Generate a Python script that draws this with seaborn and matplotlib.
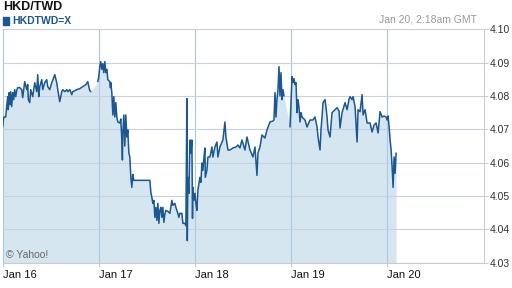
import matplotlib
matplotlib.use("Agg")
import matplotlib.pyplot as plt
import matplotlib.patches as mpatches
import numpy as np
import pandas as pd
import seaborn as sns

# ---- data (hours since Jan 16 00:00 GMT, HKD/TWD rate) ----
seg1_hours = [0, 0.25, 0.75, 1.0, 1.25, 1.4, 1.6, 1.75, 2.0, 2.25, 2.5, 2.75, 3.0, 3.25, 3.5, 3.75,
              4.25, 4.75, 5.0, 5.5, 6.0, 6.25, 6.4, 6.75, 7.0, 7.5, 8.0, 8.5, 8.75, 9.0, 9.25, 9.75,
              10.0, 10.5, 11.0, 11.25, 11.75, 12.25, 12.75, 13.0, 13.5, 13.75, 14.25, 14.75, 15.0,
              15.5, 16.0, 16.25, 16.75, 17.25, 17.5, 18.0, 18.5, 19.25, 20.0, 20.75, 21.25, 21.5,
              21.75, 22.0]
seg1_rates = [4.0707, 4.0737, 4.0737, 4.0768, 4.0798, 4.0759, 4.0810, 4.0774, 4.0813, 4.0768, 4.0810,
              4.0789, 4.0819, 4.0798, 4.0816, 4.0825, 4.0825, 4.0819, 4.0795, 4.0843, 4.0819, 4.0834,
              4.0789, 4.0780, 4.0819, 4.0798, 4.0840, 4.0813, 4.0864, 4.0798, 4.0828, 4.0849, 4.0819,
              4.0840, 4.0849, 4.0828, 4.0819, 4.0840, 4.0855, 4.0864, 4.0840, 4.0819, 4.0783, 4.0813,
              4.0819, 4.0813, 4.0819, 4.0813, 4.0819, 4.0804, 4.0813, 4.0816, 4.0819, 4.0822, 4.0828,
              4.0834, 4.0843, 4.0828, 4.0816, 4.0813]

seg2_hours = [23.75, 24.0, 24.25, 24.5, 24.75, 25.0, 25.25, 25.5, 25.75, 26.0, 26.25, 26.75, 26.9,
              27.0, 27.25, 27.5, 27.75, 28.0, 28.25, 28.5, 28.75, 29.25, 29.5, 29.75, 29.9, 30.0,
              30.25, 30.5, 30.75, 31.0, 31.25, 31.5, 31.75, 32.0, 32.25, 32.5, 32.75, 36.75, 37.0,
              37.25, 37.5, 37.75, 38.0, 38.25, 38.5, 38.75, 39.0, 39.25, 39.5, 39.75, 40.0, 40.25,
              40.5, 40.75, 41.25, 41.75, 42.25, 42.5, 43.0, 43.25, 43.75, 44.0, 44.25, 44.75, 45.0,
              45.5, 45.75, 46.0, 46.1, 46.25, 46.5, 46.75, 47.0, 47.25, 47.4, 47.5, 47.75, 48.0,
              48.25, 48.5, 48.75, 49.25, 49.5, 49.75, 50.0, 50.25, 50.5, 50.6, 51.0, 51.25, 51.75,
              52.25, 52.5, 53.0, 53.5, 53.75, 54.25, 55.0, 55.5, 55.75, 56.25, 56.75, 57.5, 58.25,
              58.75, 59.25, 59.75, 60.5, 61.0, 61.5, 61.75, 62.5, 63.0, 63.5, 63.75, 64.25, 64.75,
              65.5, 66.0, 66.75, 67.5, 67.75, 68.0, 68.25, 68.5, 68.75, 69.0, 69.25, 69.5, 69.75,
              70.0, 70.25]
seg2_rates = [4.0843, 4.0858, 4.0888, 4.0903, 4.0880, 4.0897, 4.0870, 4.0903, 4.0870, 4.0880, 4.0849,
              4.0843, 4.0825, 4.0840, 4.0810, 4.0743, 4.0798, 4.0737, 4.0780, 4.0737, 4.0722, 4.0719,
              4.0731, 4.0668, 4.0608, 4.0689, 4.0743, 4.0650, 4.0743, 4.0677, 4.0698, 4.0629, 4.0617,
              4.0556, 4.0526, 4.0565, 4.0547, 4.0547, 4.0511, 4.0496, 4.0478, 4.0487, 4.0436, 4.0466,
              4.0427, 4.0478, 4.0418, 4.0457, 4.0466, 4.0436, 4.0466, 4.0421, 4.0445, 4.0457, 4.0454,
              4.0448, 4.0487, 4.0472, 4.0478, 4.0466, 4.0448, 4.0436, 4.0448, 4.0448, 4.0418, 4.0418,
              4.0411, 4.0792, 4.0366, 4.0556, 4.0508, 4.0668, 4.0629, 4.0668, 4.0433, 4.0526, 4.0487,
              4.0508, 4.0478, 4.0457, 4.0517, 4.0556, 4.0541, 4.0599, 4.0577, 4.0614, 4.0644, 4.0556,
              4.0577, 4.0617, 4.0617, 4.0647, 4.0617, 4.0647, 4.0662, 4.0617, 4.0647, 4.0668, 4.0722,
              4.0677, 4.0638, 4.0638, 4.0644, 4.0647, 4.0653, 4.0644, 4.0668, 4.0638, 4.0677, 4.0650,
              4.0638, 4.0617, 4.0647, 4.0562, 4.0629, 4.0647, 4.0683, 4.0674, 4.0698, 4.0722, 4.0725,
              4.0728, 4.0810, 4.0737, 4.0790, 4.0819, 4.0888, 4.0800, 4.0870, 4.0789, 4.0819, 4.0800]

seg3_hours = [71.75, 72.0, 72.25, 72.5, 72.75, 73.0, 73.25, 73.5, 73.75, 74.0, 74.25, 74.5, 74.75,
              75.5, 76.0, 76.75, 77.5, 78.0, 78.5, 78.75, 79.25, 79.5, 79.75, 80.0, 80.5, 80.75,
              81.0, 81.25, 81.75, 82.25, 83.0, 83.5, 84.0, 84.25, 84.75, 85.5, 86.0, 86.5, 86.75,
              87.25, 87.5, 88.0, 88.5, 88.75, 89.25, 89.75, 90.0, 90.5, 91.0, 91.75, 92.25, 92.75,
              93.25, 93.75, 94.25, 94.75, 95.25, 95.75, 96.0, 96.25, 96.5, 96.75, 97.0, 97.25, 97.5,
              97.75, 98.0, 98.25]
seg3_rates = [4.0707, 4.0780, 4.0858, 4.0840, 4.0852, 4.0834, 4.0840, 4.0750, 4.0789, 4.0765, 4.0722,
              4.0750, 4.0737, 4.0728, 4.0707, 4.0728, 4.0728, 4.0737, 4.0707, 4.0677, 4.0638, 4.0700,
              4.0737, 4.0780, 4.0789, 4.0765, 4.0737, 4.0698, 4.0677, 4.0750, 4.0759, 4.0765, 4.0755,
              4.0704, 4.0750, 4.0780, 4.0759, 4.0790, 4.0798, 4.0789, 4.0798, 4.0768, 4.0662, 4.0759,
              4.0753, 4.0804, 4.0743, 4.0759, 4.0719, 4.0719, 4.0692, 4.0713, 4.0719, 4.0689, 4.0753,
              4.0737, 4.0740, 4.0737, 4.0728, 4.0740, 4.0707, 4.0668, 4.0638, 4.0587, 4.0526, 4.0617,
              4.0568, 4.0629]

x_tick_hours = [0, 24, 48, 72, 96]
x_tick_labels = ["Jan 16", "Jan 17", "Jan 18", "Jan 19", "Jan 20"]
y_ticks = [4.03, 4.04, 4.05, 4.06, 4.07, 4.08, 4.09, 4.10]

title = "HKD/TWD"
series_name = "HKDTWD=X"
timestamp = "Jan 20, 2:18am GMT"
credit = "\u00a9 Yahoo!"

# ---- build frame ----
df = pd.concat([
    pd.DataFrame({"hour": seg1_hours, "rate": seg1_rates, "seg": 1}),
    pd.DataFrame({"hour": seg2_hours, "rate": seg2_rates, "seg": 2}),
    pd.DataFrame({"hour": seg3_hours, "rate": seg3_rates, "seg": 3}),
], ignore_index=True)

LINE = "#1b5791"
FILL = "#d6e6f1"

sns.set_theme(style="white")
plt.rcParams["font.family"] = ["Liberation Sans", "DejaVu Sans"]

fig = plt.figure(figsize=(5.12, 2.88), dpi=100)
ax = fig.add_axes([2.7 / 512, 1 - 262.7 / 288, (484 - 2.7) / 512, (262.7 - 29.3) / 288])

ax.fill_between(df["hour"], df["rate"], y_ticks[0], color=FILL, linewidth=0, zorder=1)
sns.lineplot(data=df, x="hour", y="rate", units="seg", estimator=None, color=LINE,
             linewidth=1.1, legend=False, ax=ax, zorder=3)

ax.set_xlim(0, 120.2)
ax.set_ylim(4.03, 4.10)
ax.set_xlabel("")
ax.set_ylabel("")

ax.set_xticks(x_tick_hours)
ax.set_xticklabels(x_tick_labels, ha="left", fontsize=8, color="#111111")
ax.yaxis.tick_right()
ax.set_yticks(y_ticks)
ax.set_yticklabels([f"{v:.2f}" for v in y_ticks], fontsize=7.5, color="#333333")
ax.tick_params(axis="x", length=3, width=0.7, color="#cccccc", pad=2, bottom=True)
ax.tick_params(axis="y", length=3, width=0.7, color="#cccccc", pad=1.5, right=True, left=False)

ax.set_axisbelow(False)
ax.grid(axis="y", color=(0.78, 0.82, 0.88, 0.3), linewidth=0.8)
ax.grid(axis="x", color=(0.65, 0.78, 0.9, 0.3), linewidth=0.8)

for side, col in [("top", "#e0e0e0"), ("left", "#e0e0e0"), ("bottom", "#cccccc"), ("right", "#cccccc")]:
    ax.spines[side].set_visible(True)
    ax.spines[side].set_color(col)
    ax.spines[side].set_linewidth(0.8)

# header texts
fig.text(3 / 512, 1 - 7 / 288, title, fontsize=9, fontweight="bold", color="#111111",
         ha="left", va="center")
fig.patches.append(mpatches.Rectangle((2.7 / 512, 1 - 25 / 288), 6.6 / 512, 8 / 288,
                                      transform=fig.transFigure, color=LINE, figure=fig))
fig.text(12.7 / 512, 1 - 20.7 / 288, series_name, fontsize=7.5, fontweight="bold", color=LINE,
         ha="left", va="center")
fig.text(477 / 512, 1 - 20 / 288, timestamp, fontsize=7.5, color="#999999",
         ha="right", va="center")
fig.text(6 / 512, 1 - 255 / 288, credit, fontsize=7.5, color="#666666",
         ha="left", va="center")

fig.savefig("out.png", dpi=100)
